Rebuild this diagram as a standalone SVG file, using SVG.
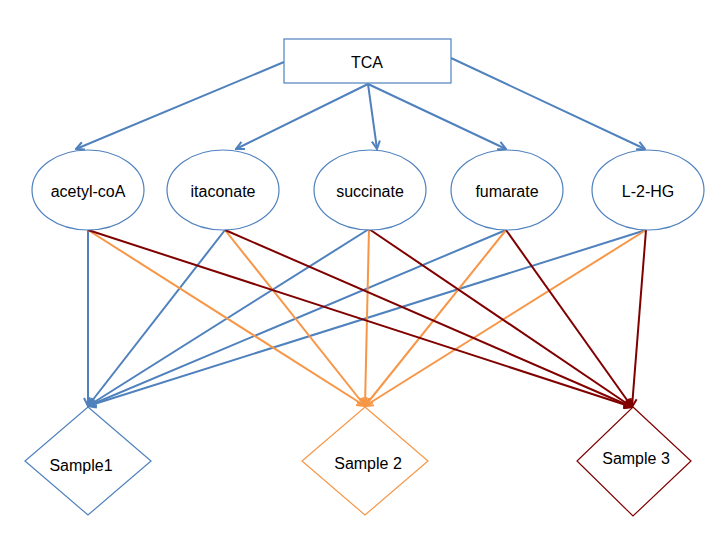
<svg xmlns="http://www.w3.org/2000/svg" width="720" height="540" viewBox="0 0 720 540">
<defs>
<style>
.lbl{font-family:"Liberation Sans","Noto Sans",Arial,sans-serif;font-size:16px;fill:#000;text-anchor:middle;dominant-baseline:central}
.node{fill:#fff;stroke:#4F81BD;stroke-width:1.2}
.b{stroke:#4F81BD;stroke-width:2;fill:none;marker-end:url(#ab)}
.o{stroke:#F79646;stroke-width:2;fill:none;marker-end:url(#ao)}
.r{stroke:#800000;stroke-width:2;fill:none;marker-end:url(#ar)}
</style>
<marker id="ab" viewBox="0 0 10 10" refX="9" refY="5" markerWidth="10" markerHeight="10" markerUnits="userSpaceOnUse" orient="auto"><path d="M1,1 L9,5 L1,9" fill="none" stroke="#4F81BD" stroke-width="2"/></marker>
<marker id="ao" viewBox="0 0 10 10" refX="9" refY="5" markerWidth="10" markerHeight="10" markerUnits="userSpaceOnUse" orient="auto"><path d="M1,1 L9,5 L1,9" fill="none" stroke="#F79646" stroke-width="2"/></marker>
<marker id="ar" viewBox="0 0 10 10" refX="9" refY="5" markerWidth="10" markerHeight="10" markerUnits="userSpaceOnUse" orient="auto"><path d="M1,1 L9,5 L1,9" fill="none" stroke="#800000" stroke-width="2"/></marker>
</defs>
<rect width="720" height="540" fill="#fff"/>
<g id="connectors">
<line class="b" x1="284" y1="62" x2="76" y2="149"/>
<line class="b" x1="368" y1="84" x2="236" y2="149"/>
<line class="b" x1="368" y1="84" x2="377" y2="149"/>
<line class="b" x1="368" y1="84" x2="506" y2="149"/>
<line class="b" x1="451" y1="58" x2="645" y2="149"/>
<line class="b" x1="88" y1="230" x2="88" y2="406"/>
<line class="b" x1="225" y1="230" x2="88" y2="406"/>
<line class="b" x1="369" y1="229" x2="88" y2="406"/>
<line class="b" x1="506" y1="230" x2="88" y2="406"/>
<line class="b" x1="646" y1="230" x2="88" y2="406"/>
<line class="o" x1="88" y1="230" x2="365" y2="406"/>
<line class="o" x1="225" y1="230" x2="365" y2="406"/>
<line class="o" x1="369" y1="229" x2="365" y2="406"/>
<line class="o" x1="506" y1="230" x2="365" y2="406"/>
<line class="o" x1="646" y1="230" x2="365" y2="406"/>
<line class="r" x1="88" y1="230" x2="632" y2="407"/>
<line class="r" x1="225" y1="230" x2="632" y2="407"/>
<line class="r" x1="369" y1="229" x2="632" y2="407"/>
<line class="r" x1="506" y1="230" x2="632" y2="407"/>
<line class="r" x1="646" y1="230" x2="632" y2="407"/>
</g>
<g id="tca"><rect class="node" x="284" y="39" width="167" height="44"/><text class="lbl" x="367" y="62">TCA</text></g>
<g id="acetyl-coA"><ellipse class="node" cx="88" cy="190" rx="56" ry="40"/><text class="lbl" x="88" y="191">acetyl-coA</text></g>
<g id="itaconate"><ellipse class="node" cx="223" cy="190" rx="56" ry="40"/><text class="lbl" x="223" y="191">itaconate</text></g>
<g id="succinate"><ellipse class="node" cx="370" cy="190" rx="56" ry="40"/><text class="lbl" x="370" y="191">succinate</text></g>
<g id="fumarate"><ellipse class="node" cx="507" cy="190" rx="56" ry="40"/><text class="lbl" x="507" y="191">fumarate</text></g>
<g id="l-2-hg"><ellipse class="node" cx="648" cy="190" rx="56" ry="40"/><text class="lbl" x="648" y="191">L-2-HG</text></g>
<g id="sample1"><polygon points="88,407 151,461 88,515 25,461" fill="#fff" stroke="#4F81BD" stroke-width="1.2"/><text class="lbl" x="81" y="465">Sample1</text></g>
<g id="sample2"><polygon points="365,407 428,461 365,515 302,461" fill="#fff" stroke="#F79646" stroke-width="1.2"/><text class="lbl" x="368" y="463">Sample 2</text></g>
<g id="sample3"><polygon points="633,407 691,461 633,516 577,461" fill="#fff" stroke="#800000" stroke-width="1.2"/><text class="lbl" x="636" y="458">Sample 3</text></g>
</svg>
